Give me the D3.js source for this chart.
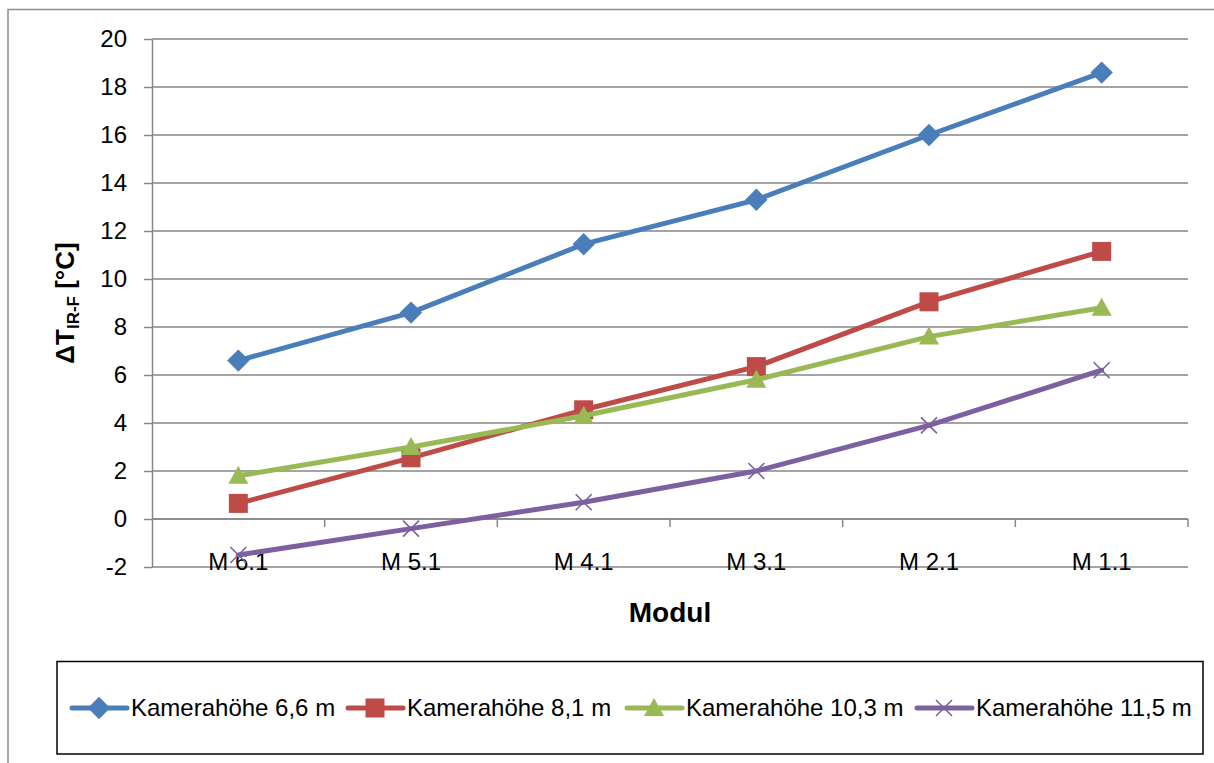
<!DOCTYPE html>
<meta charset="utf-8">
<style>
  body { margin: 0; background: #fff; }
  svg { font-family: "Liberation Sans", Arial, sans-serif; }
  .grid line, .axis line, .axis path { stroke: #868686; stroke-width: 1.5; }
</style>
<script src="https://d3js.org/d3.v7.min.js"></script>
<body>
<svg id="chart" width="1214" height="763"></svg>
<script>
  var categories = ["M 6.1", "M 5.1", "M 4.1", "M 3.1", "M 2.1", "M 1.1"];
  var yTicks = [-2, 0, 2, 4, 6, 8, 10, 12, 14, 16, 18, 20];

  var h66 = [6.6, 8.6, 11.45, 13.3, 16.0, 18.6];
  var h81 = [0.65, 2.55, 4.55, 6.35, 9.05, 11.15];
  var h103 = [1.8, 3.0, 4.3, 5.8, 7.6, 8.8];
  var h115 = [-1.5, -0.4, 0.7, 2.0, 3.9, 6.2];

  var series = [
    { label: "Kamerahöhe 6,6 m", values: h66, color: "#4A7EBB", marker: "diamond", lx: 72 },
    { label: "Kamerahöhe 8,1 m", values: h81, color: "#BE4B48", marker: "square", lx: 348 },
    { label: "Kamerahöhe 10,3 m", values: h103, color: "#98B954", marker: "triangle", lx: 627 },
    { label: "Kamerahöhe 11,5 m", values: h115, color: "#7D60A0", marker: "cross", lx: 917 }
  ];

  var svg = d3.select("#chart");
  var plotLeft = 152, plotRight = 1188, plotTop = 39, plotBottom = 567;

  var x = d3.scalePoint().domain(categories).range([plotLeft, plotRight]).padding(0.5);
  var band = d3.scaleBand().domain(categories).range([plotLeft, plotRight]);
  var y = d3.scaleLinear().domain([-2, 20]).range([plotBottom, plotTop]);

  // outer border of chart area
  svg.append("rect").attr("x", 8).attr("y", 9.5).attr("width", 1220).attr("height", 770)
    .attr("fill", "none").attr("stroke", "#8c8c8c").attr("stroke-width", 1.5);

  // gridlines
  svg.append("g").attr("class", "grid")
    .selectAll("line").data(yTicks).join("line")
    .attr("x1", plotLeft).attr("x2", plotRight)
    .attr("y1", d => y(d)).attr("y2", d => y(d));

  // y axis (plain hyphen for negatives, as in the original)
  var yAxis = svg.append("g").attr("class", "axis")
    .attr("transform", `translate(${plotLeft},0)`)
    .call(d3.axisLeft(y).tickValues(yTicks).tickFormat(d => String(d))
      .tickSize(8).tickPadding(17).tickSizeOuter(0));
  yAxis.selectAll("text").style("font-size", "24px").attr("fill", "#000")
    .attr("font-family", "Liberation Sans, Arial, sans-serif");

  // x axis line at zero with category boundary ticks
  var xAxis = svg.append("g").attr("class", "axis");
  xAxis.append("line").attr("x1", plotLeft).attr("x2", plotRight).attr("y1", y(0)).attr("y2", y(0));
  xAxis.selectAll("line.tick").data(categories.slice(1).concat(["end"])).join("line")
    .attr("class", "tick")
    .attr("x1", d => d === "end" ? plotRight : band(d))
    .attr("x2", d => d === "end" ? plotRight : band(d))
    .attr("y1", y(0)).attr("y2", y(0) + 8);

  svg.append("g").selectAll("text").data(categories).join("text")
    .attr("x", d => x(d)).attr("y", 562).attr("dy", "0.35em")
    .attr("text-anchor", "middle").style("font-size", "24px").text(d => d);

  // axis titles
  svg.append("text").attr("x", 670).attr("y", 612).attr("dy", "0.35em")
    .attr("text-anchor", "middle").style("font-size", "28px").style("font-weight", "bold").text("Modul");

  var yt = svg.append("text").attr("transform", "translate(74,303) rotate(-90)")
    .attr("text-anchor", "middle").style("font-size", "26px").style("font-weight", "bold");
  yt.append("tspan").text("ΔT");
  yt.append("tspan").attr("dy", 5).style("font-size", "17px").text("IR-F");
  yt.append("tspan").attr("dy", -5).text(" [°C]");

  function marker(g, type, color) {
    if (type === "diamond") {
      g.append("path").attr("d", d3.symbol(d3.symbolSquare, 250)()).attr("transform", "rotate(45)").attr("fill", color);
    } else if (type === "square") {
      g.append("rect").attr("x", -9.5).attr("y", -9.5).attr("width", 19).attr("height", 19).attr("fill", color);
    } else if (type === "triangle") {
      g.append("path").attr("d", "M0,-10L10,8L-10,8Z").attr("fill", color);
    } else {
      g.append("path").attr("d", "M-8,-8L8,8M-8,8L8,-8").attr("stroke", color).attr("stroke-width", 1.6).attr("fill", "none");
    }
  }

  var line = d3.line().x((d, i) => x(categories[i])).y(d => y(d));

  series.forEach(s => {
    svg.append("path").datum(s.values).attr("d", line)
      .attr("fill", "none").attr("stroke", s.color).attr("stroke-width", 5)
      .attr("stroke-linejoin", "round").attr("stroke-linecap", "round");
    s.values.forEach((v, i) => {
      var g = svg.append("g").attr("transform", `translate(${x(categories[i])},${y(v)})`);
      marker(g, s.marker, s.color);
    });
  });

  // legend
  svg.append("rect").attr("x", 57).attr("y", 661.5).attr("width", 1146).attr("height", 92.5)
    .attr("fill", "none").attr("stroke", "#000").attr("stroke-width", 1.5);

  series.forEach(s => {
    var ly = 708;
    svg.append("line").attr("x1", s.lx).attr("x2", s.lx + 55).attr("y1", ly).attr("y2", ly)
      .attr("stroke", s.color).attr("stroke-width", 5).attr("stroke-linecap", "round");
    var g = svg.append("g").attr("transform", `translate(${s.lx + 27},${ly})`);
    marker(g, s.marker, s.color);
    svg.append("text").attr("x", s.lx + 59).attr("y", ly).attr("dy", "0.35em")
      .style("font-size", "24px").text(s.label);
  });
</script>
</body>
